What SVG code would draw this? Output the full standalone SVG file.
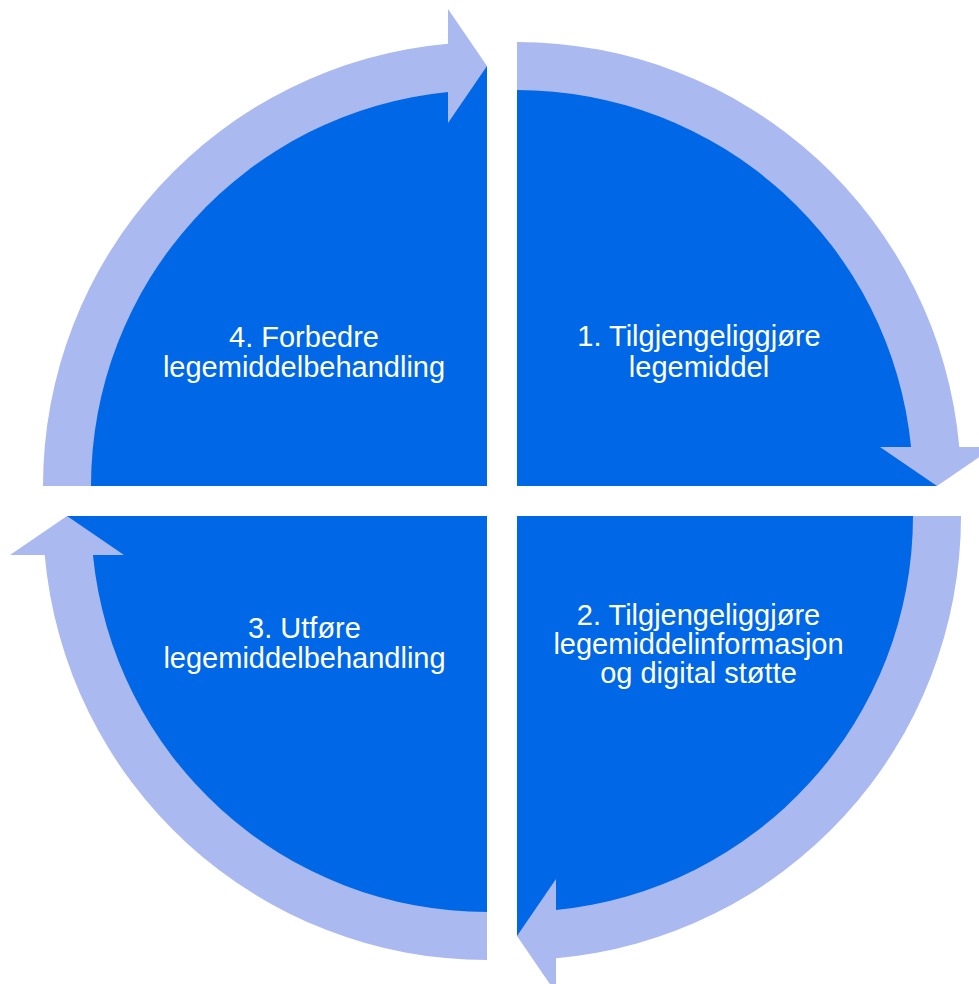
<svg xmlns="http://www.w3.org/2000/svg" width="979" height="984" viewBox="0 0 979 984">
<style>
.q{fill:#0068E6}
.ring{fill:#ABB9F1}
.t{font-family:"Liberation Sans",Arial,sans-serif;font-size:29px;fill:#FFFFFF;text-anchor:middle}
</style>
<rect width="979" height="984" fill="#FFFFFF"/>
<g id="step1">
<path class="q" d="M517 486 L517 66 A420 420 0 0 1 937 486 Z"/>
<text class="t" x="699" y="346">1. Tilgjengeliggjøre</text>
<text class="t" x="699" y="376.5">legemiddel</text>
</g>
<g id="step2">
<path class="q" d="M517 516 L937 516 A420 420 0 0 1 517 936 Z"/>
<text class="t" x="698.5" y="625">2. Tilgjengeliggjøre</text>
<text class="t" x="698.5" y="654">legemiddelinformasjon</text>
<text class="t" x="698.5" y="683">og digital støtte</text>
</g>
<g id="step3">
<path class="q" d="M487 516 L487 936 A420 420 0 0 1 67 516 Z"/>
<text class="t" x="304.5" y="638">3. Utføre</text>
<text class="t" x="304.5" y="668">legemiddelbehandling</text>
</g>
<g id="step4">
<path class="q" d="M487 486 L67 486 A420 420 0 0 1 487 66 Z"/>
<text class="t" x="304" y="346.5">4. Forbedre</text>
<text class="t" x="304" y="376.5">legemiddelbehandling</text>
</g>
<g id="connectors">
<path class="ring" d="M517 42 A444 444 0 0 1 959.28 447 L994 447 L937 486 L880 447 L911.07 447 A396 396 0 0 0 517 90 Z"/>
<path class="ring" d="M961 516 A444 444 0 0 1 556 958.28 L556 993 L517 936 L556 879 L556 910.07 A396 396 0 0 0 913 516 Z"/>
<path class="ring" d="M487 960 A444 444 0 0 1 44.72 555 L10 555 L67 516 L124 555 L92.93 555 A396 396 0 0 0 487 912 Z"/>
<path class="ring" d="M43 486 A444 444 0 0 1 448 43.72 L448 9 L487 66 L448 123 L448 91.93 A396 396 0 0 0 91 486 Z"/>
</g>
</svg>
